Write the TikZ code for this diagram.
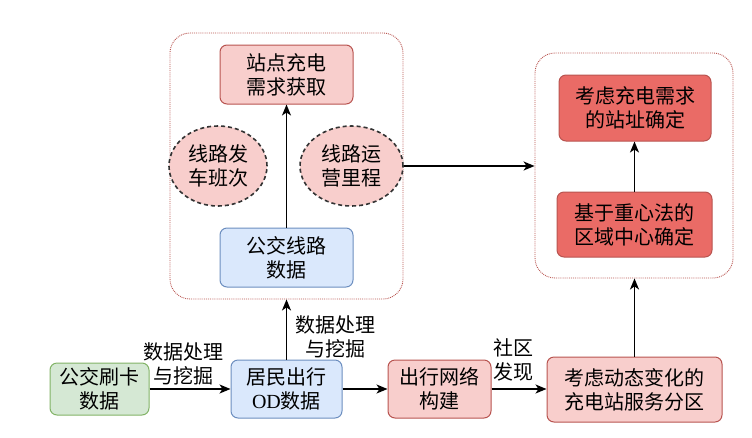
\documentclass[tikz,border=0pt]{standalone}
\usepackage{fontspec}
\setmainfont{Noto Sans CJK SC}
\newfontfamily\latinserif{Liberation Serif}
\usetikzlibrary{arrows.meta,shapes.geometric}
\definecolor{pinkfill}{HTML}{F8CECC}
\definecolor{pinkline}{HTML}{B85450}
\definecolor{redfill}{HTML}{EA6B66}
\definecolor{bluefill}{HTML}{DAE8FC}
\definecolor{blueline}{HTML}{6C8EBF}
\definecolor{greenfill}{HTML}{D5E8D4}
\definecolor{greenline}{HTML}{82B366}
\tikzset{
  base/.style={font=\fontsize{20}{24}\selectfont, align=center, inner sep=0pt, line width=1pt},
  boxpink/.style={base, rectangle, rounded corners=7pt, draw=pinkline, fill=pinkfill},
  boxred/.style={base, rectangle, rounded corners=7pt, draw=pinkline, fill=redfill},
  boxblue/.style={base, rectangle, rounded corners=7pt, draw=blueline, fill=bluefill},
  boxgreen/.style={base, rectangle, rounded corners=7pt, draw=greenline, fill=greenfill},
  ell/.style={base, ellipse, draw=black!80, dashed, dash pattern=on 4pt off 3pt, line width=1.6pt, fill=pinkfill},
  container/.style={rectangle, rounded corners=20pt, draw=pinkline, densely dotted, line width=0.9pt, inner sep=0pt},
  conn/.style={line width=1.4pt, -{Stealth[length=11pt,width=9pt,inset=3pt]}},
  lbl/.style={font=\fontsize{20}{24}\selectfont, align=center, inner sep=0pt}
}
\begin{document}
\begin{tikzpicture}[x=1pt,y=-1pt]
\useasboundingbox (0,0) rectangle (752,437);
% containers
\node[container, minimum width=233pt, minimum height=266pt] (c1) at (286.5,166) {};
\node[container, minimum width=198pt, minimum height=225pt] (c2) at (634,165.5) {};
% left container content
\node[boxpink, minimum width=133pt, minimum height=59pt] (n1) at (286.5,74.5) {站点充电\\需求获取};
\node[ell, minimum width=98pt, minimum height=80pt] (e1) at (218,166) {线路发\\车班次};
\node[ell, minimum width=103pt, minimum height=80pt] (e2) at (351.5,166) {线路运\\营里程};
\node[boxblue, minimum width=133pt, minimum height=59pt] (n2) at (286.5,257.5) {公交线路\\数据};
% right container content
\node[boxred, minimum width=152pt, minimum height=66pt] (r1) at (635,108) {考虑充电需求\\的站址确定};
\node[boxred, minimum width=155pt, minimum height=65pt] (r2) at (634.5,224.5) {基于重心法的\\区域中心确定};
% bottom row
\node[boxgreen, minimum width=99pt, minimum height=52pt] (b1) at (99.5,389) {公交刷卡\\数据};
\node[boxblue, minimum width=111pt, minimum height=58pt] (b2) at (286.5,389) {居民出行\\{\latinserif OD}数据};
\node[boxpink, minimum width=103pt, minimum height=58pt] (b3) at (439.5,389) {出行网络\\构建};
\node[boxpink, minimum width=175pt, minimum height=65pt] (b4) at (634.5,389.5) {考虑动态变化的\\充电站服务分区};
% connectors
\draw[conn] (n2.north) -- (n1.south);
\draw[conn] (e2.east) -- (c2.west |- e2.east);
\draw[conn] (r2.north) -- (r1.south -| r2.north);
\draw[conn] (b1.east) -- (b2.west);
\draw[conn] (b2.north) -- (c1.south);
\draw[conn] (b2.east) -- (b3.west);
\draw[conn] (b3.east) -- (b4.west |- b3.east);
\draw[conn] (b4.north) -- (c2.south -| b4.north);
% labels
\node[lbl] (l1) at (183.5,364) {数据处理\\与挖掘};
\node[lbl] (l2) at (335,337) {数据处理\\与挖掘};
\node[lbl] (l3) at (513,360) {社区\\发现};
\end{tikzpicture}
\end{document}
